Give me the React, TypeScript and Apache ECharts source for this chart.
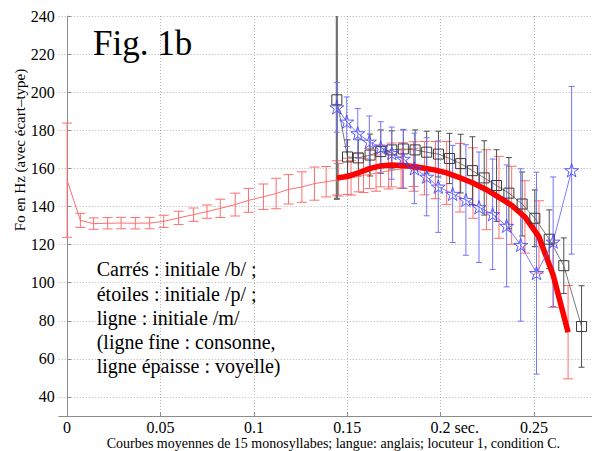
import React, { useEffect, useRef } from 'react';
import * as echarts from 'echarts';

const FONT = 'Liberation Serif';

const xTicks = [0, 0.05, 0.1, 0.15, 0.2, 0.25];
const yTicks = [40, 60, 80, 100, 120, 140, 160, 180, 200, 220, 240];

// /m/ consonant part (thin red line)
const mConsT = [0, 0.0071, 0.0142, 0.0217, 0.0289, 0.0365, 0.0442, 0.0517, 0.0597, 0.0677, 0.0749, 0.082, 0.09, 0.0971, 0.1051, 0.1119, 0.1185, 0.1257, 0.1324, 0.1387, 0.1453, 0.152, 0.1587, 0.1654, 0.1721, 0.1788, 0.1855];
const mConsF = [153.8, 132.7, 131, 131.2, 131.3, 131.2, 131.3, 132.2, 134, 135.7, 137.3, 139, 141, 143.2, 145.1, 146.8, 149, 150.2, 152, 153, 154, 155, 156.3, 157.5, 158.7, 159.7, 160.5];
const mConsSd = [30, 3.7, 3, 3, 3, 3, 3, 3.2, 3.5, 3.5, 3.5, 4.8, 6, 6.3, 6.7, 8, 7.7, 8, 8.7, 8, 8.5, 9, 9, 9.5, 9.5, 10, 10];

// /m/ vowel part (thick red line)
const mVowT = [0.1444, 0.1502, 0.156, 0.1619, 0.1678, 0.1737, 0.1796, 0.1855, 0.1913, 0.1972, 0.2032, 0.2103, 0.2173, 0.2245, 0.2312, 0.238, 0.2451, 0.2526, 0.2602, 0.2682];
const mVowF = [155, 155.8, 157.7, 159.9, 161.3, 161.8, 161.5, 161, 160.1, 159.1, 157.6, 155.1, 152.3, 148.8, 144.8, 140.6, 134.5, 124, 104, 74];
const mVowSd = [9, 9.5, 10, 10.5, 11, 11.5, 12, 13, 14, 15, 16.5, 18, 18.5, 21, 21.5, 20.5, 19, 19, 17, 24.5];

// initial /b/ (squares)
const bT = [0.1444, 0.1501, 0.1559, 0.1622, 0.1679, 0.1738, 0.18, 0.1863, 0.1925, 0.1988, 0.2047, 0.2107, 0.217, 0.2233, 0.2299, 0.2365, 0.2436, 0.2504, 0.2581, 0.2659, 0.2754];
const bF = [196, 166, 165.5, 167, 168.8, 169.7, 170.2, 169.7, 168.5, 167.5, 165.2, 162.5, 158.8, 155, 151, 147, 141.3, 133.8, 122.8, 108.9, 77];
const bSd = [52, 9, 9.5, 11, 11.4, 10, 10, 10.5, 11, 12, 13.2, 15.4, 17.8, 19.5, 18.8, 18.7, 16.8, 14.9, 15.4, 14.6, 21.4];

// initial /p/ (stars)
const pT = [0.1444, 0.1497, 0.1556, 0.1618, 0.1679, 0.1738, 0.18, 0.1859, 0.1925, 0.1987, 0.2064, 0.2135, 0.2205, 0.2278, 0.2353, 0.2428, 0.2513, 0.2602, 0.2701];
const pF = [192, 184.5, 178.4, 174, 171, 168, 165, 160, 155.6, 150.4, 146.6, 143.4, 139.6, 135.9, 129.8, 119.8, 105, 121.5, 159];
const pSd = [13, 13, 13, 13.5, 13.5, 13.7, 15.5, 18.5, 20.5, 24, 25.5, 29, 29, 29, 32, 40, 53, 34, 44];

const figTitle = 'Fig. 1b';
const yTitle = 'Fo en Hz (avec écart–type)';
const caption = 'Courbes moyennes de 15 monosyllabes; langue: anglais; locuteur 1, condition C.';
const noteLines = [
  'Carrés : initiale /b/ ;',
  'étoiles : initiale /p/ ;',
  'ligne : initiale /m/',
  '(ligne fine : consonne,',
  'ligne épaisse : voyelle)',
];

const STAR = 'path://M0,-10L2.245,-3.09L9.511,-3.09L3.633,1.18L5.878,8.09L0,3.82L-5.878,8.09L-3.633,1.18L-9.511,-3.09L-2.245,-3.09Z';

const zip3 = (t: number[], f: number[], s: number[]) => t.map((v, i) => [v, f[i], s[i]]);
const zip2 = (t: number[], f: number[]) => t.map((v, i) => [v, f[i]]);

function errRender(color: string, cap: number, lw: number, first?: { color: string; lw: number }) {
  return (params: any, api: any) => {
    const x = api.value(0);
    const m = api.value(1);
    const s = api.value(2);
    const top = api.coord([x, m + s]);
    const bot = api.coord([x, m - s]);
    const isFirst = first && params.dataIndex === 0;
    const style = { stroke: isFirst ? first!.color : color, lineWidth: isFirst ? first!.lw : lw, fill: null };
    const h = cap / 2;
    return {
      type: 'group',
      children: [
        { type: 'line', shape: { x1: top[0], y1: top[1], x2: bot[0], y2: bot[1] }, style },
        { type: 'line', shape: { x1: top[0] - h, y1: top[1], x2: top[0] + h, y2: top[1] }, style },
        { type: 'line', shape: { x1: bot[0] - h, y1: bot[1], x2: bot[0] + h, y2: bot[1] }, style },
      ],
    };
  };
}

export default function App() {
  const ref = useRef<HTMLDivElement>(null);
  useEffect(() => {
    if (!ref.current) return;
    const chart = echarts.init(ref.current, undefined, { renderer: 'svg' });
    const redLight = '#ff6f6f';
    const option: any = {
      animation: false,
      backgroundColor: '#ffffff',
      textStyle: { fontFamily: FONT },
      grid: { left: 58.7, top: 16, right: 0, bottom: 35, outerBoundsMode: 'none' },
      xAxis: {
        type: 'value',
        min: -0.0045,
        max: 0.281,
        axisLine: { show: true, lineStyle: { color: '#8c8c8c', width: 1 } },
        axisTick: { show: true, inside: true, length: 4, lineStyle: { color: '#8c8c8c' }, customValues: xTicks },
        axisLabel: {
          customValues: xTicks,
          margin: 5.2,
          lineHeight: 12,
          color: '#000',
          fontFamily: FONT,
          fontSize: 16,
          formatter: (v: number) => (Math.abs(v - 0.2) < 1e-9 ? '{p| }0.2 {s|sec.}' : String(v)),
          rich: {
            p: { width: 28, fontFamily: FONT, fontSize: 16, lineHeight: 12 },
            s: { fontFamily: FONT, fontSize: 16, color: '#000', lineHeight: 12 },
          },
        },
        splitLine: { show: true, lineStyle: { color: '#b4b4b4', width: 1, type: [1, 2] } },
      },
      yAxis: {
        type: 'value',
        min: 30,
        max: 240,
        axisLine: { show: true, lineStyle: { color: '#8c8c8c', width: 1 } },
        axisTick: { show: true, inside: true, length: 4, lineStyle: { color: '#8c8c8c' }, customValues: yTicks },
        axisLabel: { customValues: yTicks, margin: 4, color: '#000', fontFamily: FONT, fontSize: 16 },
        splitLine: { show: true, lineStyle: { color: '#b4b4b4', width: 1, type: [1, 2] } },
      },
      series: [
        {
          type: 'custom', name: 'm-cons-err', clip: true, z: 2,
          renderItem: errRender(redLight, 10, 1),
          data: zip3(mConsT, mConsF, mConsSd), encode: { x: 0, y: 1 },
        },
        {
          type: 'custom', name: 'm-vow-err', clip: true, z: 2,
          renderItem: errRender(redLight, 10, 1),
          data: zip3(mVowT, mVowF, mVowSd), encode: { x: 0, y: 1 },
        },
        {
          type: 'custom', name: 'b-err', clip: true, z: 2,
          renderItem: errRender('#3c3c3c', 6, 0.9, { color: '#707070', lw: 2.2 }),
          data: zip3(bT, bF, bSd), encode: { x: 0, y: 1 },
        },
        {
          type: 'custom', name: 'p-err', clip: true, z: 2,
          renderItem: errRender('#7474ff', 6, 1),
          data: zip3(pT, pF, pSd), encode: { x: 0, y: 1 },
        },
        {
          type: 'line', name: 'm-cons', z: 3, clip: true,
          data: zip2(mConsT, mConsF), symbol: 'none',
          lineStyle: { color: redLight, width: 1 },
        },
        {
          type: 'line', name: 'm-vow', z: 3, clip: true,
          data: zip2(mVowT, mVowF), symbol: 'none',
          lineStyle: { color: '#ff0000', width: 5.5, cap: 'butt', join: 'round' },
        },
        {
          type: 'line', name: 'b', z: 4, clip: true,
          data: zip2(bT, bF), symbol: 'rect', symbolSize: 10, showAllSymbol: true,
          lineStyle: { color: '#555555', width: 0.8 },
          itemStyle: { color: 'rgba(0,0,0,0)', borderColor: '#3a3a3a', borderWidth: 1 },
        },
        {
          type: 'line', name: 'p', z: 4, clip: true,
          data: zip2(pT, pF), symbol: STAR, symbolSize: 14, symbolKeepAspect: true, showAllSymbol: true,
          lineStyle: { color: '#5c5cff', width: 0.8 },
          itemStyle: { color: 'rgba(0,0,0,0)', borderColor: '#4848ff', borderWidth: 0.9 },
        },
      ],
      graphic: [
        {
          type: 'text', x: 93, y: 43.2, z: 10,
          style: { text: figTitle, font: '35px Liberation Serif', fill: '#000', align: 'left', verticalAlign: 'middle', textAlign: 'left', textVerticalAlign: 'middle' },
        },
        {
          type: 'text', x: 96.7, y: 257.1, z: 10,
          style: { text: noteLines.join('\n'), font: '20px Liberation Serif', lineHeight: 24.3, fill: '#000', align: 'left', verticalAlign: 'top', textAlign: 'left', textVerticalAlign: 'top' },
        },
        {
          type: 'text', x: 19.5, y: 150, rotation: Math.PI / 2, z: 10,
          style: { text: yTitle, font: '15px Liberation Serif', fill: '#000', align: 'center', verticalAlign: 'middle', textAlign: 'center', textVerticalAlign: 'middle' },
        },
        {
          type: 'text', x: 106.7, y: 443.5, z: 10,
          style: { text: caption, font: '14px Liberation Serif', lineHeight: 12, fill: '#000', align: 'left', verticalAlign: 'middle', textAlign: 'left', textVerticalAlign: 'middle' },
        },
      ],
    };
    chart.setOption(option);
    return () => chart.dispose();
  }, []);
  return <div ref={ref} style={{ position: 'fixed', left: 0, top: 0, width: 592, height: 451 }} />;
}
